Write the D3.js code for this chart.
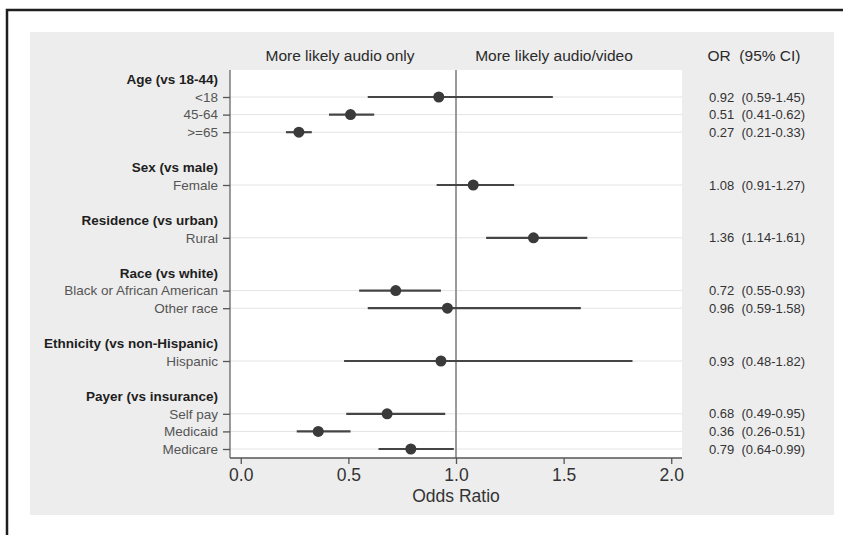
<!DOCTYPE html>
<html>
<head>
<meta charset="utf-8">
<script src="https://cdn.jsdelivr.net/npm/d3@7"></script>
<style>
  body { margin: 0; background: #fff; }
  svg { display: block; font-family: "Liberation Sans", Arial, sans-serif; }
</style>
</head>
<body>
<svg id="chart" width="843" height="535"></svg>
<script>
// groups and their rows
const groups = ["Age (vs 18-44)", "Sex (vs male)", "Residence (vs urban)", "Race (vs white)", "Ethnicity (vs non-Hispanic)", "Payer (vs insurance)"];
const categories = ["<18", "45-64", ">=65", "Female", "Rural", "Black or African American", "Other race", "Hispanic", "Self pay", "Medicaid", "Medicare"];
const categoryGroup = [0, 0, 0, 1, 2, 3, 3, 4, 5, 5, 5];
const oddsRatio = [0.92, 0.51, 0.27, 1.08, 1.36, 0.72, 0.96, 0.93, 0.68, 0.36, 0.79];
const ciLow = [0.59, 0.41, 0.21, 0.91, 1.14, 0.55, 0.59, 0.48, 0.49, 0.26, 0.64];
const ciHigh = [1.45, 0.62, 0.33, 1.27, 1.61, 0.93, 1.58, 1.82, 0.95, 0.51, 0.99];
const xTicks = [0, 0.5, 1, 1.5, 2];
const headerLabels = ["More likely audio only", "More likely audio/video", "OR  (95% CI)"];

// build the row list: header, items, blank spacer
const rows = [];
groups.forEach((g, gi) => {
  rows.push({ type: "header", label: g });
  categories.forEach((c, i) => {
    if (categoryGroup[i] === gi) rows.push({ type: "item", label: c, i });
  });
  if (gi < groups.length - 1) rows.push({ type: "blank", label: "" });
});
rows.forEach((r, k) => (r.k = k));
const items = rows.filter((r) => r.type === "item");

const svg = d3.select("#chart");
const fmt = d3.format(".2f");

// outer frame + panel
svg.append("path")
  .attr("d", "M7,535 L7,10 L843,10")
  .attr("fill", "none")
  .attr("stroke", "#1e1e1e")
  .attr("stroke-width", 2.5);

svg.append("rect").attr("x", 30).attr("y", 32).attr("width", 804).attr("height", 483).attr("fill", "#ededed");

const plot = { left: 230, right: 682, top: 70, bottom: 458 };
svg.append("rect")
  .attr("x", plot.left).attr("y", plot.top)
  .attr("width", plot.right - plot.left).attr("height", plot.bottom - plot.top)
  .attr("fill", "#fff");

const x = d3.scaleLinear().domain([-0.05, 2.05]).range([plot.left, plot.right]);
const y = d3.scalePoint().domain(rows.map((r) => r.k)).range([79.4, 449]);

// gridlines
svg.append("g").selectAll("line").data(items).join("line")
  .attr("x1", plot.left).attr("x2", plot.right)
  .attr("y1", (d) => y(d.k)).attr("y2", (d) => y(d.k))
  .attr("stroke", "#e4e4e4").attr("stroke-width", 1);

// reference line at OR = 1
svg.append("line")
  .attr("x1", x(1)).attr("x2", x(1))
  .attr("y1", plot.top).attr("y2", plot.bottom)
  .attr("stroke", "#7a7a7a").attr("stroke-width", 1.5);

// left axis
const yAxis = d3.axisLeft(y).tickValues(items.map((d) => d.k)).tickSize(7).tickFormat("");
const gy = svg.append("g").attr("transform", `translate(${plot.left},0)`).call(yAxis);
gy.select(".domain").attr("d", `M0,${plot.top}V${plot.bottom}`).attr("stroke", "#666").attr("stroke-width", 1.3);
gy.selectAll(".tick line").attr("stroke", "#555").attr("stroke-width", 1.3);

// bottom axis
const xAxis = d3.axisBottom(x).tickValues(xTicks).tickSize(6).tickFormat(d3.format(".1f"));
const gx = svg.append("g").attr("transform", `translate(0,${plot.bottom})`).call(xAxis);
gx.select(".domain").attr("d", `M${plot.left},0H${plot.right}`).attr("stroke", "#555").attr("stroke-width", 1.3);
gx.selectAll(".tick line").attr("stroke", "#555").attr("stroke-width", 1.3);
gx.selectAll(".tick text")
  .attr("y", 11).attr("dy", "0.71em")
  .attr("font-size", 17.5).attr("fill", "#333")
  .attr("font-family", "Liberation Sans, Arial, sans-serif");

svg.append("text")
  .attr("x", x(1)).attr("y", 502)
  .attr("text-anchor", "middle")
  .attr("font-size", 17.5).attr("fill", "#333")
  .text("Odds Ratio");

// row labels
svg.append("g").selectAll("text").data(rows.filter((r) => r.type !== "blank")).join("text")
  .attr("x", 218).attr("y", (d) => y(d.k)).attr("dy", "0.36em")
  .attr("text-anchor", "end")
  .attr("font-size", 13.5)
  .attr("font-weight", (d) => (d.type === "header" ? "bold" : "normal"))
  .attr("fill", (d) => (d.type === "header" ? "#1e1e1e" : "#555"))
  .text((d) => d.label);

// CI lines and points
const marks = svg.append("g");
marks.selectAll("line").data(items).join("line")
  .attr("x1", (d) => x(ciLow[d.i])).attr("x2", (d) => x(ciHigh[d.i]))
  .attr("y1", (d) => y(d.k)).attr("y2", (d) => y(d.k))
  .attr("stroke", "#454545").attr("stroke-width", 2.2);
marks.selectAll("circle").data(items).join("circle")
  .attr("cx", (d) => x(oddsRatio[d.i])).attr("cy", (d) => y(d.k))
  .attr("r", 5.5).attr("fill", "#3a3a3a");

// OR (95% CI) column
svg.append("g").selectAll("text").data(items).join("text")
  .attr("x", 709).attr("y", (d) => y(d.k)).attr("dy", "0.36em")
  .attr("font-size", 13).attr("fill", "#333")
  .attr("xml:space", "preserve")
  .text((d) => `${fmt(oddsRatio[d.i])}  (${fmt(ciLow[d.i])}-${fmt(ciHigh[d.i])})`);

// top headers
const headerX = [340, 554, 754];
svg.append("g").selectAll("text").data(headerLabels).join("text")
  .attr("x", (d, i) => headerX[i]).attr("y", 55).attr("dy", "0.36em")
  .attr("text-anchor", "middle")
  .attr("font-size", 15.5).attr("fill", "#2a2a2a")
  .attr("xml:space", "preserve")
  .text((d) => d);
</script>
</body>
</html>
